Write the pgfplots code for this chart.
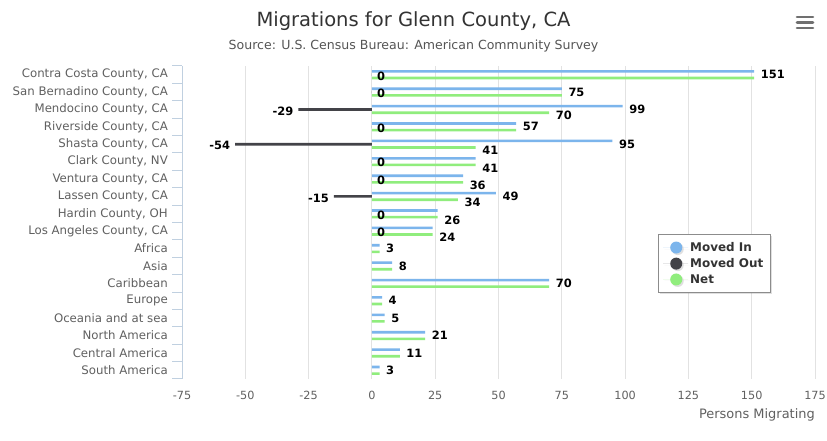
\documentclass[border=0pt]{standalone}
\usepackage{pgfplots}
\pgfplotsset{compat=1.18}
\usepackage{pgfplotstable}
\usepackage{fontspec}
\setmainfont{DejaVu Sans}
\usetikzlibrary{shadows}
\definecolor{inc}{HTML}{7CB5EC}
\definecolor{outc}{HTML}{434348}
\definecolor{netc}{HTML}{90ED7D}
\definecolor{ticklab}{HTML}{606060}
\definecolor{axisc}{HTML}{C0D0E0}
\definecolor{gridc}{HTML}{E2E2E2}
\definecolor{titlec}{HTML}{333333}
\definecolor{subc}{HTML}{555555}

\pgfplotstableread{
y x lab
17 151 151
16 75 75
15 99 99
14 57 57
13 95 95
12 41 {}
11 36 {}
10 49 49
9 26 {}
8 24 {}
7 3 3
6 8 8
5 70 70
4 4 4
3 5 5
2 21 21
1 11 11
0 3 3
}\movedin

\pgfplotstableread{
y x lab
17 0 0
16 0 0
14 0 0
12 0 0
11 0 0
9 0 0
8 0 0
}\movedoutzero

\pgfplotstableread{
y x lab
15 -29 -29
13 -54 -54
10 -15 -15
}\movedoutneg

\pgfplotstableread{
y x lab
17 151 {}
16 75 {}
15 70 70
14 57 {}
13 41 41
12 41 41
11 36 36
10 34 34
9 26 26
8 24 24
7 3 {}
6 8 {}
5 70 {}
4 4 {}
3 5 {}
2 21 {}
1 11 {}
0 3 {}
}\net

\begin{document}
\begin{tikzpicture}[x=1bp,y=1bp]
\path[use as bounding box, fill=white] (0,0) rectangle (827,441);
\node[anchor=base, text=titlec, font=\fontsize{19.6}{23}\selectfont] at (413.5,414) {Migrations for Glenn County, CA};
\node[anchor=base, text=subc, font=\fontsize{12.6}{15}\selectfont] at (413.5,391) {Source: U.S. Census Bureau: American Community Survey};
% menu icon
\foreach \yy in {424,418.5,413} \draw[line width=2.6bp, color=ticklab!90, line cap=round] (797,\yy) -- (813,\yy);
\begin{axis}[
  at={(182bp,62bp)}, anchor=south west,
  scale only axis, width=633bp, height=313bp,
  xmin=-75, xmax=175, ymin=-0.5, ymax=17.5,
  xtick={-75,-50,...,175},
  ytick={0,...,17},
  yticklabels={South America, Central America, North America, Oceania and at sea, Europe, Caribbean, Asia, Africa, {Los Angeles County, CA}, {Hardin County, OH}, {Lassen County, CA}, {Ventura County, CA}, {Clark County, NV}, {Shasta County, CA}, {Riverside County, CA}, {Mendocino County, CA}, {San Bernadino County, CA}, {Contra Costa County, CA}},
  minor ytick={-0.5,0.5,...,17.5},
  axis lines=left, axis line style={-},
  x axis line style={draw=none},
  y axis line style={draw=axisc, line width=1bp},
  major tick length=0pt, minor tick length=10bp, tick align=outside,
  minor tick style={draw=axisc, line width=1bp},
  xmajorgrids, major grid style={draw=gridc, line width=1bp},
  ticklabel style={text=ticklab},
  yticklabel style={font=\fontsize{11.8}{13}\selectfont, anchor=east, inner sep=0pt, xshift=-14bp},
  xticklabel style={font=\fontsize{11.3}{13}\selectfont, anchor=north, inner sep=0pt, yshift=-12bp},
  /pgf/number format/assume math mode=true,
  xlabel={Persons Migrating},
  xlabel style={at={(rel axis cs:1,0)}, anchor=base east, yshift=-40bp, inner sep=0pt, font=\fontsize{13}{15}\selectfont, text=ticklab},
  point meta=explicit symbolic,
  every node near coord/.style={font=\bfseries\fontsize{11.5}{13}\selectfont, text=black, inner sep=0pt},
  legend style={at={(rel axis cs:0.752,0.463)}, anchor=north west, draw=black!45, fill=white, drop shadow={opacity=0.25, shadow xshift=1.5bp, shadow yshift=-1.5bp}, font=\bfseries\fontsize{12}{14}\selectfont, text=titlec, inner xsep=5bp, inner ysep=6bp, row sep=1.5bp},
  legend cell align=left,
  legend image code/.code={\path (0bp,0bp) -- (25bp,0bp); \fill[#1] (13bp,0bp) circle (6bp);},
]
\addplot[xbar, bar width=2.6bp, bar shift=3.3bp, fill=inc, draw=none, nodes near coords, every node near coord/.append style={anchor=west, xshift=6.5bp, yshift=0bp}, forget plot] table[x=x, y=y, meta=lab] {\movedin};
\addplot[xbar, bar width=2.6bp, bar shift=0bp, fill=outc, draw=none, nodes near coords, every node near coord/.append style={anchor=west, xshift=5bp, yshift=-1.2bp}, forget plot] table[x=x, y=y, meta=lab] {\movedoutzero};
\addplot[xbar, bar width=2.6bp, bar shift=0bp, fill=outc, draw=none, nodes near coords, every node near coord/.append style={anchor=east, xshift=-5bp, yshift=-1.5bp}, forget plot] table[x=x, y=y, meta=lab] {\movedoutneg};
\addplot[xbar, bar width=2.6bp, bar shift=-3.3bp, fill=netc, draw=none, nodes near coords, every node near coord/.append style={anchor=west, xshift=6.5bp, yshift=-6.3bp}, forget plot] table[x=x, y=y, meta=lab] {\net};
\addlegendimage{fill=inc, draw=none}
\addlegendentry{Moved In}
\addlegendimage{fill=outc, draw=none}
\addlegendentry{Moved Out\hspace{5bp}}
\addlegendimage{fill=netc, draw=none}
\addlegendentry{Net}
\end{axis}
\end{tikzpicture}
\end{document}
